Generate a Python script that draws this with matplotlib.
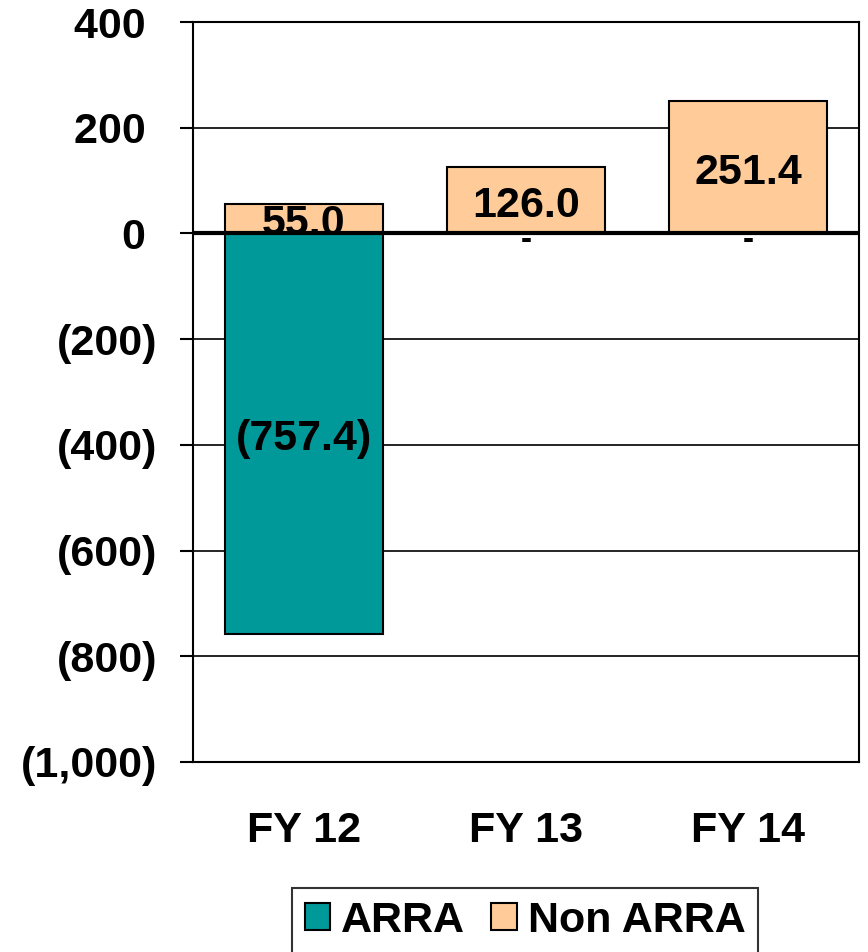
import numpy as np
import matplotlib.pyplot as plt
from matplotlib.ticker import FuncFormatter

categories = ['FY 12', 'FY 13', 'FY 14']
arra = [-757.4, 0.0, 0.0]
non_arra = [55.0, 126.0, 251.4]
yticks = [400, 200, 0, -200, -400, -600, -800, -1000]

teal = '#009999'
peach = '#FFCC99'

plt.rcParams['font.family'] = ['Liberation Sans', 'DejaVu Sans']
plt.rcParams['font.weight'] = 'bold'
fs = 31

fig = plt.figure(figsize=(8.68, 9.52), dpi=100)
ax = fig.add_axes([193/868, 1-762/952, (859-193)/868, (762-22)/952])

x = np.arange(len(categories))
w = 0.715
ax.bar(x, arra, w, color=teal, edgecolor='black', lw=1.5, zorder=3, label='ARRA')
ax.bar(x, non_arra, w, color=peach, edgecolor='black', lw=1.5, zorder=3, label='Non ARRA')

ax.set_xlim(-0.5, 2.5)
ax.set_ylim(-1000, 400)
ax.set_yticks(yticks)


def fmt(v, pos):
    # accounting style: negatives in brackets, positives padded for the bracket
    if v < 0:
        return '({:,.0f})'.format(-v)
    return '{:,.0f} '.format(v)


ax.yaxis.set_major_formatter(FuncFormatter(fmt))
ax.set_xticks(x)
ax.set_xticklabels(categories)
ax.tick_params(axis='x', length=0, pad=35, labelsize=fs)
ax.tick_params(axis='y', length=9.5, width=1.5, pad=16, labelsize=fs)
ax.grid(axis='y', color='black', lw=1.2, zorder=1)
ax.axhline(0, color='black', lw=3, zorder=4)
for s in ax.spines.values():
    s.set_linewidth(1.5)


def label(xi, yi, s, size=fs, dy=-4):
    ax.annotate(s, (xi, yi), xytext=(0, dy), textcoords='offset points',
                ha='center', va='center', fontsize=size, fontweight='bold', zorder=5)


for xi, v in zip(x, arra):
    if v == 0:
        label(xi, 0, '-', size=24, dy=-5)
    else:
        label(xi, v / 2, '({:.1f})'.format(-v))
for xi, v in zip(x, non_arra):
    label(xi, v / 2, '{:.1f}'.format(v))

leg = fig.legend(loc='upper center', bbox_to_anchor=(525/868, 1-888/952), ncol=2,
                 fontsize=fs, frameon=True, fancybox=False, edgecolor='black',
                 handlelength=0.6, handleheight=0.6, handletextpad=0.25,
                 columnspacing=0.6, borderpad=0.3, borderaxespad=0)
leg.get_frame().set_linewidth(1.5)

fig.savefig('out.png', dpi=100)
